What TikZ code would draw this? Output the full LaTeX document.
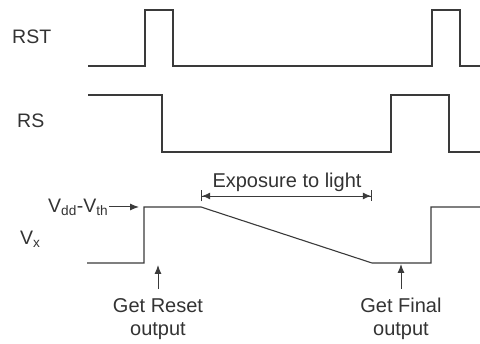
\documentclass[tikz,border=0pt]{standalone}
\usepackage{fontspec}
\setmainfont{Liberation Sans}
\usetikzlibrary{arrows.meta,positioning}
\definecolor{trace}{HTML}{3A3A3A}
\definecolor{labeltext}{HTML}{333333}
\tikzset{
  signal/.style={draw=trace, line width=1.1pt, line join=miter},
  siglabel/.style={font=\fontsize{19.5}{22}\selectfont, text=labeltext,
               inner sep=0pt, anchor=base west},
  note/.style={font=\fontsize{20}{23}\selectfont, text=labeltext,
               align=center, inner sep=0pt},
  pointer/.style={-{Latex[length=9pt,width=7pt]}, draw=trace, line width=1pt},
  span/.style={{Bar[width=11pt,line width=1.2pt]Latex[length=8pt,width=7pt]}-{Latex[length=8pt,width=7pt]Bar[width=11pt,line width=1.2pt]},
               draw=trace, line width=0.8pt},
}

\begin{document}
\begin{tikzpicture}[x=1pt,y=-1pt]
  \useasboundingbox (0,0) rectangle (480,344);

  % signal names
  \node[siglabel] (rst) at (12,43.3) {RST};
  \node[siglabel] (rs) at (17,128) {RS};
  \node[siglabel] (vx) at (20,244.7) {V\textsubscript{x}};
  \node[siglabel] (vdd) at (48,212.7) {V\textsubscript{dd}-V\textsubscript{th}};

  % waveforms
  \draw[signal] (88,66) -- (145,66) -- (145,10) -- (173,10) -- (173,66)
    -- (432,66) -- (432,10) -- (460,10) -- (460,66) -- (480,66);
  \draw[signal] (88,95) -- (162,95) -- (162,152) -- (391,152)
    -- (391,95) -- (449,95) -- (449,152) -- (480,152);
  \draw[signal] (87,263) -- (144,263) -- (144,207) coordinate (vhigh)
    -- (201,207) coordinate (expstart) -- (372,263) coordinate (expend)
    -- (431,263) -- (431,207) -- (480,207);

  % exposure span
  \node[note, anchor=base] (exposure) at (287,188) {Exposure to light};
  \coordinate (spanline) at (0,196);
  \draw[span] (expstart |- spanline) -- (expend |- spanline);

  % level pointer
  \coordinate (vtail) at (109,207);
  \draw[pointer] (vtail) -- ([xshift=-5pt]vhigh);

  % sampling instants
  \node[note] (getreset) at (158,319) {Get Reset\\output};
  \node[note] (getfinal) at (401,319) {Get Final\\output};
  \coordinate (resettip) at (158,265);
  \coordinate (finaltip) at (401,264);
  \draw[pointer] ([yshift=9pt]getreset.north) -- (resettip);
  \draw[pointer] ([yshift=9pt]getfinal.north) -- (finaltip);

\end{tikzpicture}
\end{document}
